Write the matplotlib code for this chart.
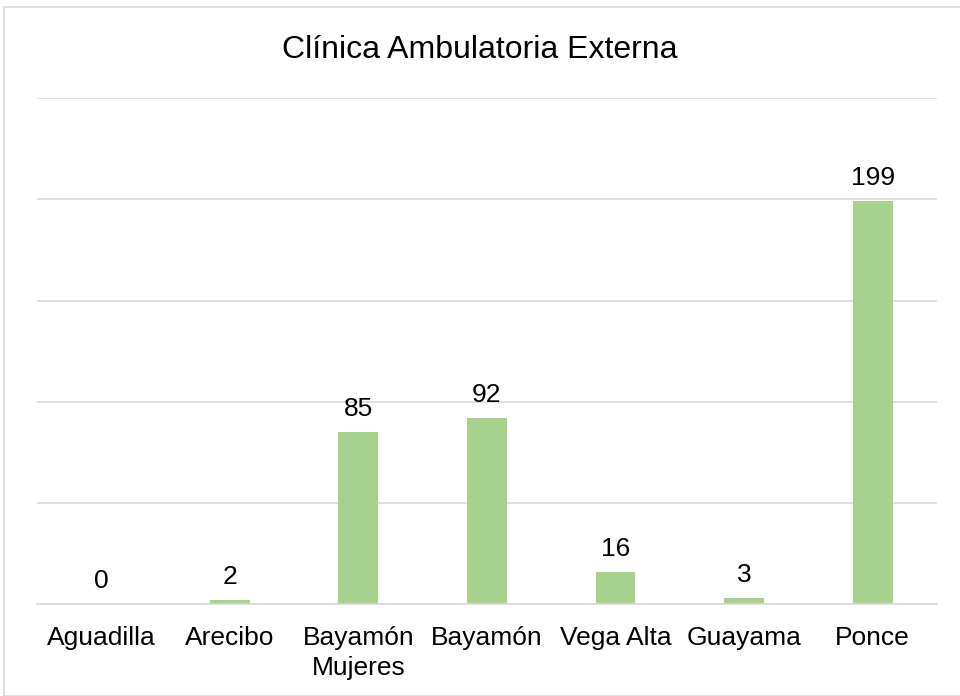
import matplotlib
matplotlib.use("Agg")
import matplotlib.pyplot as plt
from matplotlib.patches import Rectangle

plt.rcParams['font.family'] = ['Liberation Sans', 'DejaVu Sans']

sites = ["Aguadilla", "Arecibo", "Bayamón\nMujeres", "Bayamón", "Vega Alta", "Guayama", "Ponce"]
counts = [0, 2, 85, 92, 16, 3, 199]

fig = plt.figure(figsize=(9.6, 6.96), dpi=100)
ax = fig.add_axes([0.0385, 0.132, 0.9375, 0.727])

bars = ax.bar(range(len(sites)), counts, width=0.31, color="#A9D18E", zorder=2)
for i, v in enumerate(counts):
    ax.text(i, v + 5.5, str(v), ha="center", va="bottom", fontsize=19, color="#000000")

ax.set_xlim(-0.5, len(sites) - 0.5)
ax.set_ylim(0, 250)
ax.set_yticks(range(0, 251, 50))
ax.yaxis.grid(True, color="#D9D9D9", linewidth=1.2, zorder=0)
ax.tick_params(axis="y", left=False, labelleft=False)
ax.tick_params(axis="x", length=0, pad=16, labelsize=19)
ax.set_xticks(range(len(sites)))
ax.set_xticklabels(sites, linespacing=1.3)
for s in ["top", "right", "left"]:
    ax.spines[s].set_visible(False)
ax.spines["bottom"].set_color("#D9D9D9")
ax.spines["bottom"].set_linewidth(1.2)

fig.text(0.5, 0.928, "Clínica Ambulatoria Externa", ha="center", va="center", fontsize=23)
fig.patches.append(Rectangle((0.004, 0.0), 1.2, 0.99, transform=fig.transFigure,
                             fill=False, edgecolor="#D9D9D9", linewidth=1.2))

fig.savefig("out.png", dpi=100)
